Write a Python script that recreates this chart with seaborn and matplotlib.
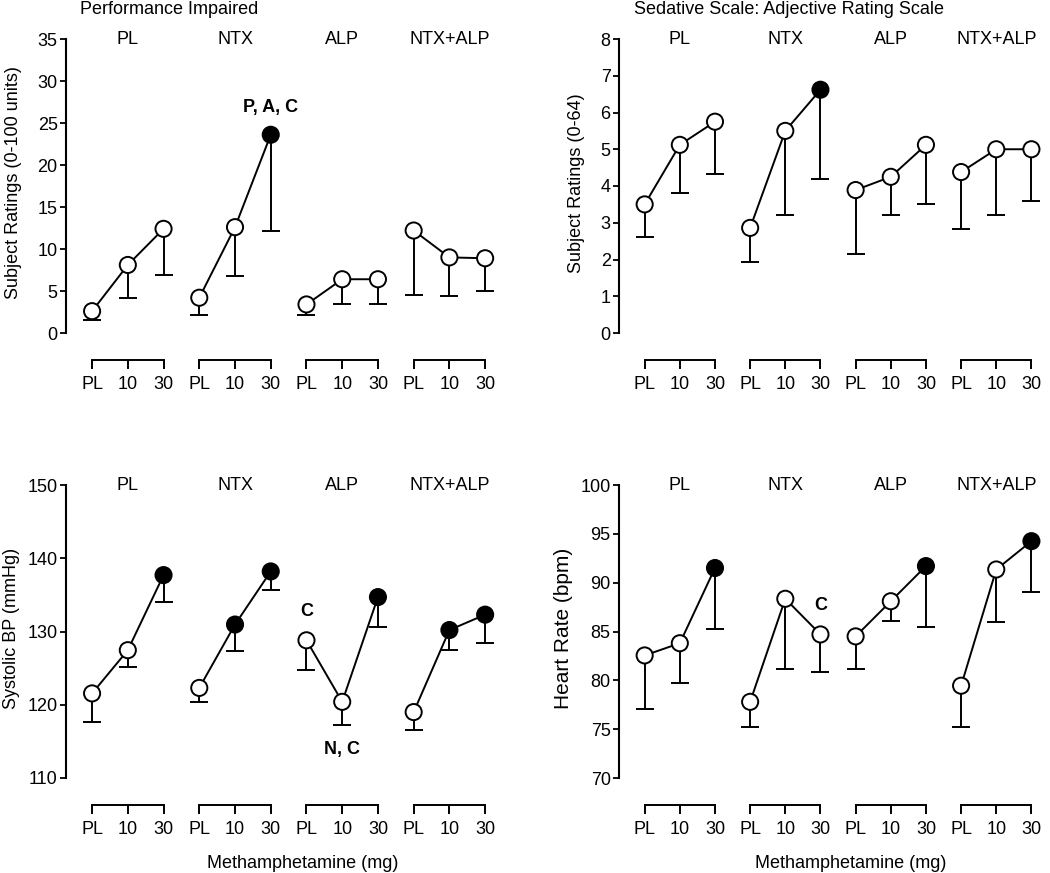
import numpy as np
import pandas as pd
import matplotlib
matplotlib.use("Agg")
import matplotlib.pyplot as plt
import matplotlib.transforms as mtransforms
import seaborn as sns

groups = ["PL", "NTX", "ALP", "NTX+ALP"]
doses = ["PL", "10", "30"]

# means and lower end of the (one-sided) error bar, 12 points = 4 groups x 3 doses
impaired_mean = [2.6, 8.1, 12.4, 4.2, 12.6, 23.6, 3.4, 6.4, 6.4, 12.2, 9.0, 8.9]
impaired_low = [1.6, 4.2, 6.9, 2.2, 6.8, 12.1, 2.1, 3.5, 3.5, 4.5, 4.45, 5.0]
impaired_sig = [0, 0, 0, 0, 0, 1, 0, 0, 0, 0, 0, 0]

sedative_mean = [3.5, 5.12, 5.75, 2.86, 5.5, 6.62, 3.89, 4.25, 5.12, 4.38, 5.0, 5.0]
sedative_low = [2.62, 3.81, 4.33, 1.92, 3.21, 4.19, 2.16, 3.2, 3.5, 2.83, 3.2, 3.6]
sedative_sig = [0, 0, 0, 0, 0, 1, 0, 0, 0, 0, 0, 0]

sbp_mean = [121.55, 127.45, 137.7, 122.3, 130.95, 138.2, 128.8, 120.4, 134.7, 119.0, 130.2, 132.3]
sbp_low = [117.7, 125.2, 134.05, 120.4, 127.4, 135.7, 124.8, 117.2, 130.6, 116.6, 127.5, 128.45]
sbp_sig = [0, 0, 1, 0, 1, 1, 0, 0, 1, 0, 1, 1]

hr_mean = [82.55, 83.8, 91.5, 77.8, 88.35, 84.7, 84.5, 88.1, 91.7, 79.45, 91.35, 94.25]
hr_low = [77.1, 79.7, 85.3, 75.2, 81.15, 80.85, 81.15, 86.05, 85.5, 75.25, 85.95, 89.0]
hr_sig = [0, 0, 1, 0, 0, 0, 0, 0, 1, 0, 0, 1]

# (position index, y, text)
impaired_notes = [(5, 26.9, "P, A, C")]
sedative_notes = []
sbp_notes = [(6, 132.7, "C"), (7, 113.9, "N, C")]
hr_notes = [(5, 87.7, "C")]

sns.set_style("ticks")
plt.rcParams["font.family"] = ["Liberation Sans", "DejaVu Sans"]
plt.rcParams.update({"text.color": "black", "axes.labelcolor": "black",
                     "xtick.color": "black", "ytick.color": "black",
                     "axes.edgecolor": "black"})

W, H = 1050, 873
fig = plt.figure(figsize=(W / 100, H / 100), dpi=100)


def px_axes(left, top, width, bottom):
    return fig.add_axes([left / W, 1 - bottom / H, width / W, (bottom - top) / H])


def draw_panel(ax, mean, low, sig, notes, ylim, ystep, ylabel, label_x):
    n = len(mean)
    pos = np.arange(n)
    df = pd.DataFrame({
        "pos": pos,
        "mean": mean,
        "low": low,
        "group": np.repeat(groups, len(doses)),
        "state": ["filled" if s else "open" for s in sig],
    })

    eb = ax.errorbar(df["pos"], df["mean"],
                     yerr=[df["mean"] - df["low"], np.zeros(n)],
                     fmt="none", ecolor="black", elinewidth=1.4,
                     capsize=6.4, capthick=1.4, zorder=1)
    eb[1][1].set_visible(False)

    sns.lineplot(data=df, x="pos", y="mean", units="group", estimator=None,
                 sort=False, color="black", linewidth=1.4, ax=ax, zorder=2,
                 legend=False)
    sns.scatterplot(data=df, x="pos", y="mean", hue="state",
                    palette={"open": "white", "filled": "black"},
                    edgecolor="black", linewidth=1.4, s=135, ax=ax,
                    zorder=3, legend=False, clip_on=False)

    ax.set_xlim(-0.73, n - 0.5)
    ax.set_ylim(*ylim)
    ax.set_yticks(np.arange(ylim[0], ylim[1] + ystep / 2, ystep))
    ax.set_xticks(pos, doses * len(groups))
    ax.set_xlabel("")
    ax.set_ylabel(ylabel, fontsize=13, va="center")
    ax.yaxis.set_label_coords(label_x, 0.51)

    for side in ["top", "right", "bottom"]:
        ax.spines[side].set_visible(False)
    ax.spines["left"].set_linewidth(1.5)
    ax.spines["bottom"].set_position(("outward", 19.4))
    ax.tick_params(axis="y", labelsize=13, length=4, width=1.3, pad=2)
    ax.tick_params(axis="x", labelsize=13, length=6.5, width=1.4, pad=5)

    # bracket line under each group of doses
    tr = ax.get_xaxis_transform() + mtransforms.ScaledTranslation(0, -0.27, fig.dpi_scale_trans)
    for g, name in enumerate(groups):
        p = pos[g * len(doses):(g + 1) * len(doses)]
        ax.plot([p[0], p[-1]], [0, 0], color="black", linewidth=1.4,
                transform=tr, clip_on=False, solid_capstyle="projecting")
        ax.text(p.mean(), ylim[1], name, ha="center", va="center", fontsize=13)

    for i, y, txt in notes:
        ax.text(pos[i], y, txt, ha="center", va="center", fontsize=13,
                fontweight="bold")


ax1 = px_axes(66, 39, 437, 333)
draw_panel(ax1, impaired_mean, impaired_low, impaired_sig, impaired_notes,
           (0, 35), 5, "Subject Ratings (0-100 units)", -0.121)

ax2 = px_axes(619, 39, 430, 333)
draw_panel(ax2, sedative_mean, sedative_low, sedative_sig, sedative_notes,
           (0, 8), 1, "Subject Ratings (0-64)", -0.098)

ax3 = px_axes(66, 485, 437, 778)
draw_panel(ax3, sbp_mean, sbp_low, sbp_sig, sbp_notes,
           (110, 150), 10, "Systolic BP (mmHg)", -0.124)

ax4 = px_axes(619, 485, 430, 778)
draw_panel(ax4, hr_mean, hr_low, hr_sig, hr_notes,
           (70, 100), 5, "Heart Rate (bpm)", -0.130)
ax4.yaxis.label.set_fontsize(15)

fig.text(80 / W, 1 - 9 / H, "Performance Impaired", fontsize=13, va="center")
fig.text(634 / W, 1 - 9 / H, "Sedative Scale: Adjective Rating Scale",
         fontsize=13, va="center")
fig.text(303 / W, 1 - 863 / H, "Methamphetamine (mg)", fontsize=13,
         ha="center", va="center")
fig.text(851 / W, 1 - 863 / H, "Methamphetamine (mg)", fontsize=13,
         ha="center", va="center")

fig.savefig("out.png", dpi=100)
